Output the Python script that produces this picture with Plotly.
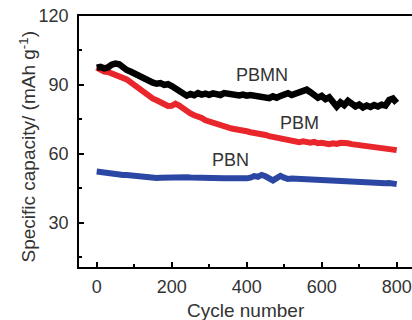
import plotly.graph_objects as go

cycles = list(range(0, 801, 10))

pbmn = [97.5, 97.8, 97.2, 97.6, 98.8, 99.3, 99.0, 97.5, 96.5, 95.8,
        95.0, 93.5, 92.8, 92.0, 91.5, 91.0, 90.5, 90.8, 90.0, 90.3,
        89.5, 88.5, 87.5, 86.5, 85.3, 86.0, 85.5, 86.4, 85.8, 86.2,
        85.7, 86.3, 86.0, 85.6, 86.4, 86.0, 85.7, 85.9, 85.4, 85.8,
        85.3, 85.6, 85.2, 84.8, 85.1, 84.6, 84.2, 85.0, 84.4, 85.2,
        85.8, 86.4, 85.6, 86.2, 87.0, 87.6, 87.9, 86.8, 85.6, 84.4,
        85.2, 83.8, 84.6, 82.2, 80.6, 82.4, 81.2, 83.0, 81.8, 80.6,
        81.4, 80.2, 81.0, 80.4, 81.2, 80.6, 81.4, 81.0, 83.4, 84.0, 82.2]

pbm = [97.5, 96.5, 95.8, 95.6, 95.0, 94.4, 94.0, 93.6, 92.4, 91.2,
       90.0, 88.6, 87.0, 86.0, 85.0, 84.0, 83.3, 82.4, 81.4, 80.8,
       80.9, 81.8, 81.0, 79.6, 78.4, 77.6, 76.8, 76.4, 75.6, 74.6,
       74.0, 73.4, 72.9, 72.4, 72.0, 71.6, 71.0, 70.7, 70.6, 70.0,
       69.8, 69.4, 69.2, 69.0, 68.6, 68.2, 67.7, 67.4, 67.0, 66.6,
       66.4, 66.0, 65.6, 65.3, 65.0, 65.4, 65.0, 64.8, 65.2, 64.6,
       64.8, 64.5, 64.2, 64.6, 64.3, 64.8, 65.0, 64.6, 64.2, 64.0,
       63.8, 63.9, 63.4, 63.5, 63.2, 62.9, 62.8, 62.6, 62.3, 61.9, 61.6]

pbn = [52.3, 52.0, 51.9, 51.6, 51.4, 51.2, 51.0, 50.8, 50.8, 50.6,
       50.6, 50.3, 50.0, 49.6, 49.4, 49.3, 49.5, 49.6, 49.7, 49.6,
       49.8, 49.7, 49.6, 49.7, 49.8, 49.7, 49.6, 49.5, 49.6, 49.5,
       49.4, 49.6, 49.4, 49.5, 49.3, 49.4, 49.3, 49.4, 49.2, 49.4,
       49.3, 49.6, 50.3, 50.0, 50.8, 50.2, 49.0, 48.4, 49.4, 50.4,
       49.6, 49.0, 49.2, 49.1, 49.0, 48.9, 48.8, 48.9, 48.7, 48.6,
       48.8, 48.5, 48.6, 48.3, 48.4, 48.1, 48.0, 48.2, 48.0, 47.8,
       47.8, 47.6, 47.4, 47.3, 47.0, 47.2, 47.4, 47.2, 47.3, 47.1, 46.8]

x_ticks = [0, 200, 400, 600, 800]
y_ticks = [30, 60, 90, 120]

labels = ["PBMN", "PBM", "PBN"]
label_x = [441, 542, 357]
label_y = [94.3, 73.5, 57.4]

FONT = "Liberation Sans, Arial, sans-serif"
TXT = "#333333"

fig = go.Figure()
for name, vals, col, w in [("PBN", pbn, "#2b47a3", 6), ("PBM", pbm, "#e8262b", 6), ("PBMN", pbmn, "#000000", 6.5)]:
    fig.add_trace(go.Scatter(x=cycles, y=vals, mode="lines", name=name,
                             line=dict(color=col, width=w),
                             showlegend=False, hoverinfo="skip"))

for t, lx, ly in zip(labels, label_x, label_y):
    fig.add_annotation(x=lx, y=ly, text=t, showarrow=False,
                       font=dict(family=FONT, size=18, color=TXT))

fig.add_annotation(xref="paper", yref="paper", x=0, y=0.5, xshift=-52, yshift=-6,
                   xanchor="center", yanchor="middle",
                   text="Specific capacity/ (mAh g<sup>-1</sup>)", textangle=-90,
                   showarrow=False, font=dict(family=FONT, size=19, color=TXT))
fig.add_annotation(xref="paper", yref="paper", x=0.5, y=0, yshift=-43,
                   xanchor="center", yanchor="middle",
                   text="Cycle number", showarrow=False,
                   font=dict(family=FONT, size=19, color=TXT))

fig.update_layout(
    width=412, height=320,
    margin=dict(l=79, r=0, t=16, b=53),
    paper_bgcolor="white", plot_bgcolor="white",
    font=dict(family=FONT, color=TXT),
)
fig.update_xaxes(range=[-47.2, 840.8], tickvals=x_ticks, ticks="inside", ticklen=5,
                 tickwidth=1.5, tickcolor="black", showline=True, linecolor="black",
                 linewidth=1.5, mirror=True, showgrid=False, zeroline=False,
                 automargin=False, ticklabelstandoff=3,
                 tickfont=dict(size=18, color=TXT),
                 minor=dict(tickvals=[100, 300, 500, 700], ticks="inside", ticklen=3,
                            tickwidth=1.5, tickcolor="black"))
fig.update_yaxes(range=[10.7, 120], tickvals=y_ticks, ticks="inside", ticklen=5,
                 tickwidth=1.5, tickcolor="black", showline=True, linecolor="black",
                 linewidth=1.5, showgrid=False, zeroline=False,
                 automargin=False, ticklabelstandoff=5,
                 tickfont=dict(size=18, color=TXT),
                 minor=dict(tickvals=[15, 45, 75, 105], ticks="inside", ticklen=3,
                            tickwidth=1.5, tickcolor="black"))

fig.write_html("out.html", config={"displayModeBar": False},
               post_script="document.body.style.margin='0';document.body.style.overflow='hidden';")
